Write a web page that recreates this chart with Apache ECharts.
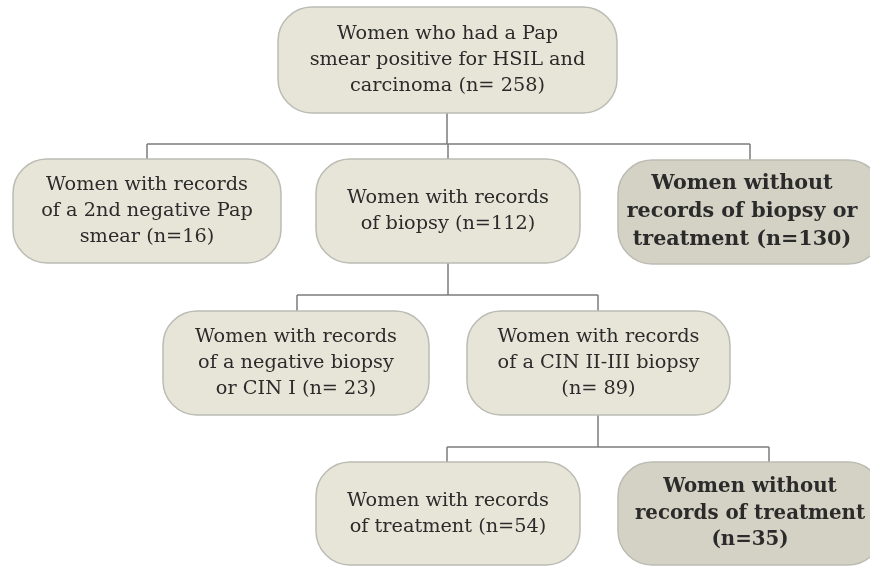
<!DOCTYPE html>
<html><head><meta charset="utf-8">
<script src="https://cdn.jsdelivr.net/npm/echarts@6/dist/echarts.min.js"></script>
<style>html,body{margin:0;padding:0;background:#fff}#c{width:870px;height:566px}</style>
</head><body><div id="c"></div>
<script>
// ---- data ----
var boxTexts = [
  "Women who had a Pap\nsmear positive for HSIL and\ncarcinoma (n= 258)",
  "Women with records\nof a 2nd negative Pap\nsmear (n=16)",
  "Women with records\nof biopsy (n=112)",
  "Women without\nrecords of biopsy or\ntreatment (n=130)",
  "Women with records\nof a negative biopsy\nor CIN I (n= 23)",
  "Women with records\nof a CIN II-III biopsy\n(n= 89)",
  "Women with records\nof treatment (n=54)",
  "Women without\nrecords of treatment\n(n=35)"
];
var counts = [258, 16, 112, 130, 23, 89, 54, 35];
var excluded = [false, false, false, true, false, false, false, true];
var parents = [-1, 0, 0, 0, 2, 2, 5, 5];

// ---- layout (positions/sizes/styles) ----
var boxRects = [
  [278, 7, 339, 106],
  [13, 159, 268, 104],
  [316, 159, 264, 104],
  [618, 160, 264, 104],
  [163, 311, 266, 104],
  [467, 311, 263, 104],
  [316, 462, 264, 103],
  [618, 462, 264, 103]
];
var textDx = [0, 0, 0, -8, 0, 0, 0, 0];
var fontSizes = [19.3, 19.3, 19.3, 20.7, 19.3, 19.3, 19.3, 19.8];
var lineHeights = [26, 26, 26, 28, 26, 26, 26, 26.5];
var busY = {0: 144, 2: 295, 5: 447};
var anchorX = {0: 447, 1: 147, 2: 448, 3: 750, 4: 297, 5: 598, 6: 447, 7: 769};

var lineStyle = {stroke: '#7b7b7b', lineWidth: 1.5};
var elements = [];

// connectors
Object.keys(busY).forEach(function (pk) {
  var p = +pk, y = busY[p];
  var pr = boxRects[p];
  var kids = [];
  parents.forEach(function (q, i) { if (q === p) kids.push(i); });
  elements.push({type: 'line', z: 1, shape: {x1: anchorX[p], y1: pr[1] + pr[3], x2: anchorX[p], y2: y}, style: lineStyle});
  var xs = kids.map(function (k) { return anchorX[k]; });
  elements.push({type: 'line', z: 1, shape: {x1: Math.min.apply(null, xs), y1: y, x2: Math.max.apply(null, xs), y2: y}, style: lineStyle});
  kids.forEach(function (k) {
    elements.push({type: 'line', z: 1, shape: {x1: anchorX[k], y1: y, x2: anchorX[k], y2: boxRects[k][1]}, style: lineStyle});
  });
});

// boxes
boxTexts.forEach(function (t, i) {
  var r = boxRects[i];
  elements.push({
    type: 'rect', z: 2,
    shape: {x: r[0], y: r[1], width: r[2], height: r[3], r: 34},
    style: {fill: excluded[i] ? '#d4d2c4' : '#e7e5d7', stroke: '#bcbcb4', lineWidth: 1.5}
  });
  elements.push({
    type: 'text', z: 3,
    x: r[0] + r[2] / 2 + textDx[i], y: r[1] + r[3] / 2,
    style: {
      text: t, align: 'center', verticalAlign: 'middle',
      fontFamily: '"DejaVu Serif", "Liberation Serif", serif',
      fontSize: fontSizes[i], lineHeight: lineHeights[i],
      fontWeight: excluded[i] ? 'bold' : 'normal',
      fill: '#2b2b2b'
    }
  });
});

var chart = echarts.init(document.getElementById('c'));
chart.setOption({animation: false, backgroundColor: '#fff', graphic: {elements: elements}});
</script></body></html>
